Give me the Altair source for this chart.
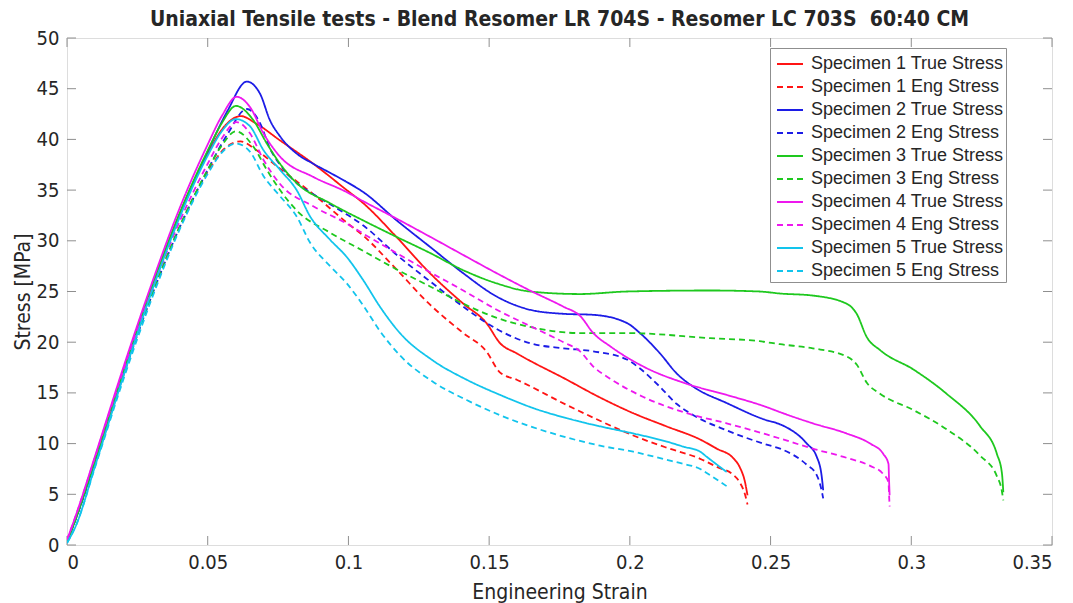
import altair as alt
import pandas as pd

# ---- data ----
s1_strain = [0, 0.003, 0.01, 0.02, 0.03, 0.04, 0.05, 0.056, 0.0617, 0.067, 0.0757, 0.0875, 0.0994, 0.1053,
             0.117, 0.129, 0.1408, 0.149, 0.1539, 0.1598, 0.1776, 0.189, 0.2012, 0.213, 0.225, 0.2309, 0.2368,
             0.239, 0.241, 0.2418]
s1_true = [0.3, 2.6, 8.5, 17.2, 25.3, 32.6, 38.6, 41.3, 42.3, 41.6, 39.9, 37.6, 35.0, 33.7,
           30.4, 26.8, 23.8, 21.9, 19.9, 18.9, 16.3, 14.6, 13.0, 11.7, 10.4, 9.5, 8.55,
           7.7, 6.1, 4.9]
s1_eng = [0.3, 2.6, 8.4, 16.9, 24.6, 31.3, 36.8, 39.1, 39.8, 39.0, 37.1, 34.6, 31.8, 30.5,
          27.2, 23.7, 20.9, 19.1, 17.0, 16.3, 13.8, 12.3, 10.8, 9.6, 8.5, 7.7, 6.9,
          6.2, 4.9, 4.0]

s2_strain = [0, 0.003, 0.01, 0.02, 0.03, 0.04, 0.05, 0.057, 0.0639, 0.0686, 0.0721, 0.0757, 0.0816, 0.0875,
             0.0935, 0.0994, 0.1053, 0.1172, 0.129, 0.1408, 0.1527, 0.1645, 0.1764, 0.187, 0.1989, 0.2036,
             0.2107, 0.2167, 0.2226, 0.2344, 0.2486, 0.2534, 0.2629, 0.2664, 0.2682, 0.2687]
s2_true = [0.4, 2.5, 8.3, 17.0, 25.2, 32.6, 38.8, 42.8, 45.7, 44.5, 41.9, 40.3, 38.6, 37.6,
           36.7, 35.8, 34.8, 32.0, 29.4, 26.8, 24.5, 23.2, 22.8, 22.7, 21.9, 20.9,
           18.9, 16.9, 15.6, 14.0, 12.3, 11.9, 10.0, 8.7, 6.7, 5.4]
s2_eng = [0.4, 2.5, 8.2, 16.7, 24.5, 31.3, 37.0, 40.5, 43.0, 41.6, 39.1, 37.5, 35.7, 34.6,
          33.6, 32.6, 31.5, 28.6, 26.0, 23.5, 21.3, 19.9, 19.4, 19.1, 18.3, 17.4,
          15.6, 13.9, 12.8, 11.3, 9.9, 9.5, 7.9, 6.9, 5.3, 4.6]

s3_strain = [0, 0.003, 0.01, 0.02, 0.03, 0.04, 0.05, 0.055, 0.060, 0.0662, 0.071, 0.0757, 0.0816, 0.0935,
             0.1053, 0.117, 0.129, 0.1408, 0.1527, 0.1645, 0.1823, 0.199, 0.2285, 0.246, 0.2534, 0.265,
             0.277, 0.2806, 0.2842, 0.289, 0.3008, 0.3126, 0.3245, 0.3304, 0.3322, 0.3327]
s3_true = [0.3, 2.5, 8.4, 17.1, 25.3, 32.7, 38.9, 41.6, 43.3, 41.9, 39.6, 37.6, 35.7, 33.7,
           32.0, 30.4, 28.8, 27.1, 25.8, 25.0, 24.75, 25.0, 25.1, 25.0, 24.8, 24.6,
           23.8, 22.8, 20.5, 19.2, 17.3, 14.9, 11.7, 9.0, 7.1, 5.2]
s3_eng = [0.3, 2.5, 8.3, 16.8, 24.6, 31.4, 37.0, 39.4, 40.8, 39.3, 37.0, 35.0, 33.0, 30.8,
          29.0, 27.2, 25.5, 23.8, 22.4, 21.5, 20.9, 20.9, 20.4, 20.1, 19.8, 19.4,
          18.6, 17.8, 16.0, 14.9, 13.3, 11.4, 8.8, 6.8, 5.3, 4.4]

s4_strain = [0, 0.003, 0.01, 0.02, 0.03, 0.04, 0.05, 0.055, 0.0603, 0.065, 0.0698, 0.0757, 0.0875, 0.0994,
             0.1053, 0.117, 0.129, 0.1408, 0.1527, 0.1645, 0.1764, 0.1823, 0.187, 0.193, 0.2048, 0.2202,
             0.2344, 0.2486, 0.2534, 0.265, 0.277, 0.2854, 0.290, 0.2919, 0.2921, 0.2923]
s4_true = [0.5, 2.8, 8.8, 17.5, 25.7, 33.2, 39.5, 42.3, 44.2, 43.2, 40.6, 38.3, 36.3, 34.8,
           33.9, 32.2, 30.4, 28.6, 26.8, 25.1, 23.5, 22.6, 20.9, 19.6, 17.6, 15.9,
           14.8, 13.6, 13.1, 12.0, 11.0, 10.0, 9.0, 8.0, 6.4, 4.9]
s4_eng = [0.5, 2.8, 8.7, 17.2, 25.0, 31.9, 37.6, 40.1, 41.7, 40.6, 38.0, 35.6, 33.4, 31.7,
          30.7, 28.8, 26.9, 25.1, 23.2, 21.6, 20.0, 19.1, 17.6, 16.4, 14.6, 13.0,
          12.0, 10.9, 10.5, 9.5, 8.6, 7.8, 7.0, 6.2, 5.0, 3.8]

s5_strain = [0, 0.003, 0.01, 0.02, 0.03, 0.04, 0.05, 0.055, 0.060, 0.065, 0.0698, 0.0757, 0.0816, 0.0864,
             0.0935, 0.0994, 0.1053, 0.1112, 0.1183, 0.130, 0.142, 0.1539, 0.1657, 0.1776, 0.1894, 0.2012,
             0.2131, 0.219, 0.225, 0.2273, 0.232, 0.2344]
s5_true = [0.2, 1.8, 7.8, 16.6, 24.9, 32.3, 38.4, 40.8, 42.0, 41.3, 38.95, 37.0, 35.0, 32.4,
           30.1, 28.4, 26.1, 23.5, 20.9, 18.2, 16.3, 14.8, 13.5, 12.5, 11.7, 11.0,
           10.2, 9.7, 9.2, 8.7, 7.7, 7.2]
s5_eng = [0.2, 1.8, 7.7, 16.3, 24.2, 31.1, 36.6, 38.7, 39.6, 38.8, 36.4, 34.4, 32.4, 29.8,
          27.5, 25.8, 23.6, 21.1, 18.7, 16.1, 14.3, 12.8, 11.6, 10.6, 9.8, 9.2,
          8.4, 8.0, 7.5, 7.1, 6.25, 5.8]

specimens = [
    (1, s1_strain, s1_true, s1_eng),
    (2, s2_strain, s2_true, s2_eng),
    (3, s3_strain, s3_true, s3_eng),
    (4, s4_strain, s4_true, s4_eng),
    (5, s5_strain, s5_true, s5_eng),
]

colors = ["#ff1414", "#1c1ce6", "#1ec81e", "#ee18ee", "#12c4ec"]
x_ticks = [0, 0.05, 0.1, 0.15, 0.2, 0.25, 0.3, 0.35]
y_ticks = [0, 5, 10, 15, 20, 25, 30, 35, 40, 45, 50]

# ---- long table ----
rows = []
labels = []
color_range = []
dash_range = []
for (n, st, tr, en), col in zip(specimens, colors):
    lt = f"Specimen {n} True Stress"
    le = f"Specimen {n} Eng Stress"
    labels += [lt, le]
    color_range += [col, col]
    dash_range += [[1, 0], [6, 4]]
    for i, (x, y) in enumerate(zip(st, tr)):
        rows.append({"strain": x, "stress": y, "series": lt, "order": i})
    for i, (x, y) in enumerate(zip(st, en)):
        rows.append({"strain": x, "stress": y, "series": le, "order": i})
df = pd.DataFrame(rows)

W, H = 985, 507
FRAME = "#8f8f8f"
TXT = "#262626"
NARROW = "Liberation Sans Narrow, Arial Narrow, DejaVu Sans Condensed, sans-serif"

xs = alt.Scale(domain=[0, 0.35], nice=False, zero=False)
ys = alt.Scale(domain=[0, 50], nice=False)

lines = alt.Chart(df).mark_line(strokeWidth=1.8, clip=True, interpolate="monotone").encode(
    x=alt.X("strain:Q", scale=xs,
            axis=alt.Axis(values=x_ticks, format="~g", title="Engineering Strain",
                          grid=False, ticks=False, domain=False, labelPadding=7,
                          labelFontSize=20, labelFont=NARROW, labelColor=TXT,
                          titleFontSize=21, titleFont=NARROW, titleColor=TXT,
                          titleFontWeight="normal", titlePadding=9)),
    y=alt.Y("stress:Q", scale=ys,
            axis=alt.Axis(values=y_ticks, title="Stress [MPa]", grid=False, ticks=False,
                          domain=False, labelPadding=8, labelFontSize=20, labelFont=NARROW,
                          labelColor=TXT, titleFontSize=21, titleFont=NARROW, titleColor=TXT,
                          titleFontWeight="normal", titlePadding=3)),
    color=alt.Color("series:N", sort=labels,
                    scale=alt.Scale(domain=labels, range=color_range),
                    legend=alt.Legend(title=None, orient="none", legendX=703, legendY=10,
                                      symbolType="stroke", symbolSize=676, symbolStrokeWidth=2,
                                      symbolOffset=4,
                                      labelFontSize=18, labelFont="Liberation Sans",
                                      labelColor=TXT, labelLimit=400, rowPadding=-3,
                                      padding=2, strokeColor=FRAME, fillColor="white",
                                      labelOffset=7)),
    strokeDash=alt.StrokeDash("series:N", sort=labels,
                              scale=alt.Scale(domain=labels, range=dash_range)),
    detail="series:N",
    order="order:Q",
)

xt = pd.DataFrame({"v": x_ticks})
yt = pd.DataFrame({"v": y_ticks})
TL = 9
tick_bottom = alt.Chart(xt).mark_rule(color=FRAME, strokeWidth=1).encode(
    x=alt.X("v:Q", scale=xs), y=alt.value(H), y2=alt.value(H - TL))
tick_top = alt.Chart(xt).mark_rule(color=FRAME, strokeWidth=1).encode(
    x=alt.X("v:Q", scale=xs), y=alt.value(0), y2=alt.value(TL))
tick_left = alt.Chart(yt).mark_rule(color=FRAME, strokeWidth=1).encode(
    y=alt.Y("v:Q", scale=ys), x=alt.value(0), x2=alt.value(TL))
tick_right = alt.Chart(yt).mark_rule(color=FRAME, strokeWidth=1).encode(
    y=alt.Y("v:Q", scale=ys), x=alt.value(W), x2=alt.value(W - TL))

chart = alt.layer(tick_bottom, tick_top, tick_left, tick_right, lines).properties(
    width=W, height=H,
    title=alt.Title("Uniaxial Tensile tests - Blend Resomer LR 704S - Resomer LC 703S\u00a0 60:40 CM",
                    fontSize=21, font=NARROW, fontWeight="bold", color=TXT,
                    anchor="middle", offset=0, dy=2),
    autosize=alt.AutoSizeParams(type="none"),
    padding={"left": 59, "top": 30, "right": 12, "bottom": 58},
).configure_view(stroke=FRAME, strokeWidth=1.2).configure(background="white")

chart.save("out.html", embed_options={"renderer": "svg", "actions": False})
